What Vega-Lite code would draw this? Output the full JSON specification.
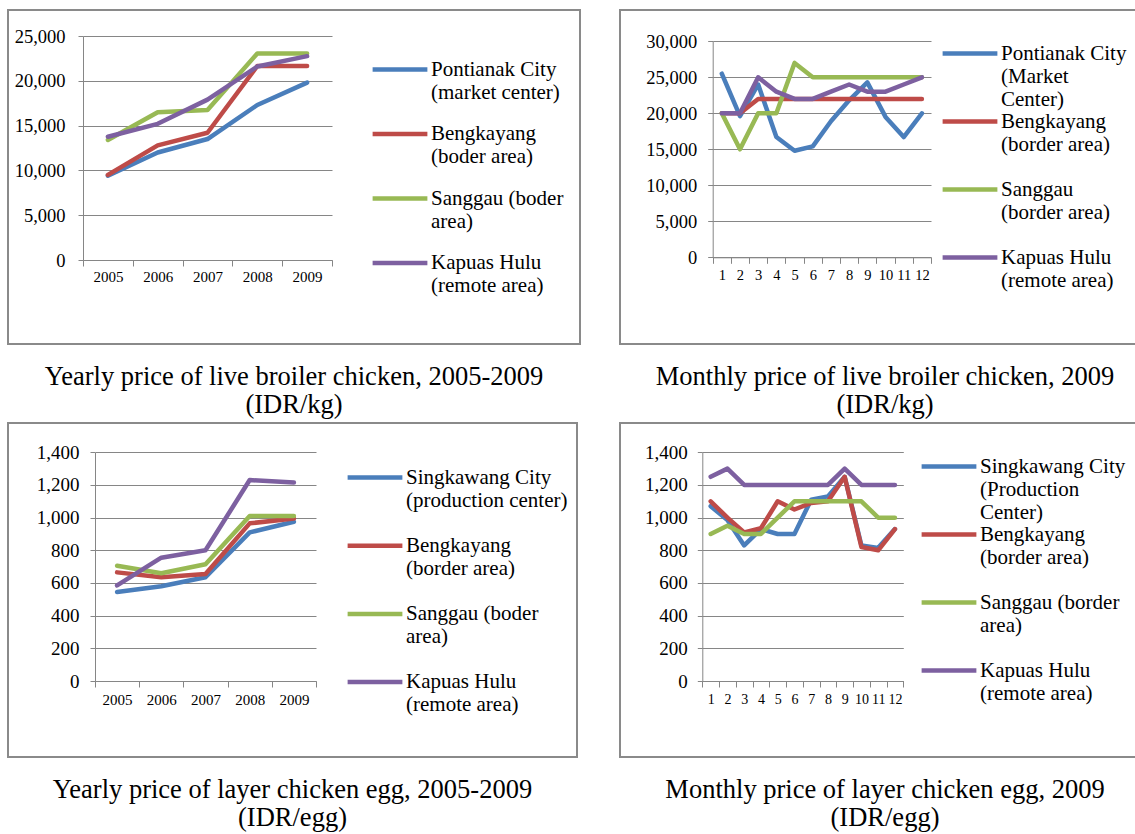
{
  "$schema": "https://vega.github.io/schema/vega-lite/v6.json",
  "padding": {"left": 7, "top": 9, "right": 0, "bottom": 0},
  "background": "white",
  "config": {
    "font": "Liberation Serif",
    "view": {"stroke": "#8a8a8a", "strokeWidth": 2},
    "axis": {"domainColor": "#868686", "tickColor": "#868686", "gridColor": "#868686", "gridWidth": 1, "labelColor": "black", "labelFont": "Liberation Serif"},
    "legend": {"padding": 0, "labelColor": "black", "labelFont": "Liberation Serif", "labelFontSize": 21, "labelLimit": 400, "labelOffset": 20.5, "symbolType": "M-4,0H4", "symbolSize": 187.5, "symbolStrokeWidth": 5, "gridAlign": "all", "columns": 1},
    "line": {"strokeWidth": 4.5, "strokeJoin": "round", "strokeCap": "round"},
    "style": {"guide-label": {"lineHeight": 23}},
    "title": {"font": "Liberation Serif", "fontWeight": "normal", "color": "black", "fontSize": 26.5, "lineHeight": 28}
  },
  "datasets": {
    "broilerYear": [
      {"year": 2005, "series": "Pontianak City (market center)", "price": 9400},
      {"year": 2006, "series": "Pontianak City (market center)", "price": 12000},
      {"year": 2007, "series": "Pontianak City (market center)", "price": 13500},
      {"year": 2008, "series": "Pontianak City (market center)", "price": 17300},
      {"year": 2009, "series": "Pontianak City (market center)", "price": 19800},
      {"year": 2005, "series": "Bengkayang (boder area)", "price": 9500},
      {"year": 2006, "series": "Bengkayang (boder area)", "price": 12800},
      {"year": 2007, "series": "Bengkayang (boder area)", "price": 14200},
      {"year": 2008, "series": "Bengkayang (boder area)", "price": 21650},
      {"year": 2009, "series": "Bengkayang (boder area)", "price": 21650},
      {"year": 2005, "series": "Sanggau (boder area)", "price": 13400},
      {"year": 2006, "series": "Sanggau (boder area)", "price": 16500},
      {"year": 2007, "series": "Sanggau (boder area)", "price": 16750},
      {"year": 2008, "series": "Sanggau (boder area)", "price": 23050},
      {"year": 2009, "series": "Sanggau (boder area)", "price": 23050},
      {"year": 2005, "series": "Kapuas Hulu (remote area)", "price": 13750},
      {"year": 2006, "series": "Kapuas Hulu (remote area)", "price": 15200},
      {"year": 2007, "series": "Kapuas Hulu (remote area)", "price": 17900},
      {"year": 2008, "series": "Kapuas Hulu (remote area)", "price": 21600},
      {"year": 2009, "series": "Kapuas Hulu (remote area)", "price": 22750}
    ],
    "broilerMonth": [
      {"month": 1, "series": "Pontianak City (Market Center)", "price": 25500},
      {"month": 2, "series": "Pontianak City (Market Center)", "price": 19600},
      {"month": 3, "series": "Pontianak City (Market Center)", "price": 24000},
      {"month": 4, "series": "Pontianak City (Market Center)", "price": 16700},
      {"month": 5, "series": "Pontianak City (Market Center)", "price": 14800},
      {"month": 6, "series": "Pontianak City (Market Center)", "price": 15400},
      {"month": 7, "series": "Pontianak City (Market Center)", "price": 18900},
      {"month": 8, "series": "Pontianak City (Market Center)", "price": 21800},
      {"month": 9, "series": "Pontianak City (Market Center)", "price": 24300},
      {"month": 10, "series": "Pontianak City (Market Center)", "price": 19500},
      {"month": 11, "series": "Pontianak City (Market Center)", "price": 16700},
      {"month": 12, "series": "Pontianak City (Market Center)", "price": 20000},
      {"month": 1, "series": "Bengkayang (border area)", "price": 20000},
      {"month": 2, "series": "Bengkayang (border area)", "price": 20000},
      {"month": 3, "series": "Bengkayang (border area)", "price": 22000},
      {"month": 4, "series": "Bengkayang (border area)", "price": 22000},
      {"month": 5, "series": "Bengkayang (border area)", "price": 22000},
      {"month": 6, "series": "Bengkayang (border area)", "price": 22000},
      {"month": 7, "series": "Bengkayang (border area)", "price": 22000},
      {"month": 8, "series": "Bengkayang (border area)", "price": 22000},
      {"month": 9, "series": "Bengkayang (border area)", "price": 22000},
      {"month": 10, "series": "Bengkayang (border area)", "price": 22000},
      {"month": 11, "series": "Bengkayang (border area)", "price": 22000},
      {"month": 12, "series": "Bengkayang (border area)", "price": 22000},
      {"month": 1, "series": "Sanggau (border area)", "price": 20000},
      {"month": 2, "series": "Sanggau (border area)", "price": 15000},
      {"month": 3, "series": "Sanggau (border area)", "price": 20000},
      {"month": 4, "series": "Sanggau (border area)", "price": 20000},
      {"month": 5, "series": "Sanggau (border area)", "price": 27000},
      {"month": 6, "series": "Sanggau (border area)", "price": 25000},
      {"month": 7, "series": "Sanggau (border area)", "price": 25000},
      {"month": 8, "series": "Sanggau (border area)", "price": 25000},
      {"month": 9, "series": "Sanggau (border area)", "price": 25000},
      {"month": 10, "series": "Sanggau (border area)", "price": 25000},
      {"month": 11, "series": "Sanggau (border area)", "price": 25000},
      {"month": 12, "series": "Sanggau (border area)", "price": 25000},
      {"month": 1, "series": "Kapuas Hulu (remote area)", "price": 20000},
      {"month": 2, "series": "Kapuas Hulu (remote area)", "price": 20000},
      {"month": 3, "series": "Kapuas Hulu (remote area)", "price": 25000},
      {"month": 4, "series": "Kapuas Hulu (remote area)", "price": 23000},
      {"month": 5, "series": "Kapuas Hulu (remote area)", "price": 22000},
      {"month": 6, "series": "Kapuas Hulu (remote area)", "price": 22000},
      {"month": 7, "series": "Kapuas Hulu (remote area)", "price": 23000},
      {"month": 8, "series": "Kapuas Hulu (remote area)", "price": 24000},
      {"month": 9, "series": "Kapuas Hulu (remote area)", "price": 23000},
      {"month": 10, "series": "Kapuas Hulu (remote area)", "price": 23000},
      {"month": 11, "series": "Kapuas Hulu (remote area)", "price": 24000},
      {"month": 12, "series": "Kapuas Hulu (remote area)", "price": 25000}
    ],
    "eggYear": [
      {"year": 2005, "series": "Singkawang City (production center)", "price": 545},
      {"year": 2006, "series": "Singkawang City (production center)", "price": 580},
      {"year": 2007, "series": "Singkawang City (production center)", "price": 635},
      {"year": 2008, "series": "Singkawang City (production center)", "price": 910},
      {"year": 2009, "series": "Singkawang City (production center)", "price": 975},
      {"year": 2005, "series": "Bengkayang (border area)", "price": 665},
      {"year": 2006, "series": "Bengkayang (border area)", "price": 635},
      {"year": 2007, "series": "Bengkayang (border area)", "price": 655},
      {"year": 2008, "series": "Bengkayang (border area)", "price": 965},
      {"year": 2009, "series": "Bengkayang (border area)", "price": 995},
      {"year": 2005, "series": "Sanggau (boder area)", "price": 705},
      {"year": 2006, "series": "Sanggau (boder area)", "price": 660},
      {"year": 2007, "series": "Sanggau (boder area)", "price": 715},
      {"year": 2008, "series": "Sanggau (boder area)", "price": 1010},
      {"year": 2009, "series": "Sanggau (boder area)", "price": 1010},
      {"year": 2005, "series": "Kapuas Hulu (remote area)", "price": 585},
      {"year": 2006, "series": "Kapuas Hulu (remote area)", "price": 755},
      {"year": 2007, "series": "Kapuas Hulu (remote area)", "price": 800},
      {"year": 2008, "series": "Kapuas Hulu (remote area)", "price": 1230},
      {"year": 2009, "series": "Kapuas Hulu (remote area)", "price": 1215}
    ],
    "eggMonth": [
      {"month": 1, "series": "Singkawang City (Production Center)", "price": 1070},
      {"month": 2, "series": "Singkawang City (Production Center)", "price": 985},
      {"month": 3, "series": "Singkawang City (Production Center)", "price": 830},
      {"month": 4, "series": "Singkawang City (Production Center)", "price": 930},
      {"month": 5, "series": "Singkawang City (Production Center)", "price": 900},
      {"month": 6, "series": "Singkawang City (Production Center)", "price": 900},
      {"month": 7, "series": "Singkawang City (Production Center)", "price": 1110},
      {"month": 8, "series": "Singkawang City (Production Center)", "price": 1130},
      {"month": 9, "series": "Singkawang City (Production Center)", "price": 1250},
      {"month": 10, "series": "Singkawang City (Production Center)", "price": 830},
      {"month": 11, "series": "Singkawang City (Production Center)", "price": 815},
      {"month": 12, "series": "Singkawang City (Production Center)", "price": 930},
      {"month": 1, "series": "Bengkayang (border area)", "price": 1100},
      {"month": 2, "series": "Bengkayang (border area)", "price": 1000},
      {"month": 3, "series": "Bengkayang (border area)", "price": 910},
      {"month": 4, "series": "Bengkayang (border area)", "price": 935},
      {"month": 5, "series": "Bengkayang (border area)", "price": 1100},
      {"month": 6, "series": "Bengkayang (border area)", "price": 1050},
      {"month": 7, "series": "Bengkayang (border area)", "price": 1090},
      {"month": 8, "series": "Bengkayang (border area)", "price": 1100},
      {"month": 9, "series": "Bengkayang (border area)", "price": 1250},
      {"month": 10, "series": "Bengkayang (border area)", "price": 820},
      {"month": 11, "series": "Bengkayang (border area)", "price": 800},
      {"month": 12, "series": "Bengkayang (border area)", "price": 930},
      {"month": 1, "series": "Sanggau (border area)", "price": 900},
      {"month": 2, "series": "Sanggau (border area)", "price": 950},
      {"month": 3, "series": "Sanggau (border area)", "price": 900},
      {"month": 4, "series": "Sanggau (border area)", "price": 900},
      {"month": 5, "series": "Sanggau (border area)", "price": 1000},
      {"month": 6, "series": "Sanggau (border area)", "price": 1100},
      {"month": 7, "series": "Sanggau (border area)", "price": 1100},
      {"month": 8, "series": "Sanggau (border area)", "price": 1100},
      {"month": 9, "series": "Sanggau (border area)", "price": 1100},
      {"month": 10, "series": "Sanggau (border area)", "price": 1100},
      {"month": 11, "series": "Sanggau (border area)", "price": 1000},
      {"month": 12, "series": "Sanggau (border area)", "price": 1000},
      {"month": 1, "series": "Kapuas Hulu (remote area)", "price": 1250},
      {"month": 2, "series": "Kapuas Hulu (remote area)", "price": 1300},
      {"month": 3, "series": "Kapuas Hulu (remote area)", "price": 1200},
      {"month": 4, "series": "Kapuas Hulu (remote area)", "price": 1200},
      {"month": 5, "series": "Kapuas Hulu (remote area)", "price": 1200},
      {"month": 6, "series": "Kapuas Hulu (remote area)", "price": 1200},
      {"month": 7, "series": "Kapuas Hulu (remote area)", "price": 1200},
      {"month": 8, "series": "Kapuas Hulu (remote area)", "price": 1200},
      {"month": 9, "series": "Kapuas Hulu (remote area)", "price": 1300},
      {"month": 10, "series": "Kapuas Hulu (remote area)", "price": 1200},
      {"month": 11, "series": "Kapuas Hulu (remote area)", "price": 1200},
      {"month": 12, "series": "Kapuas Hulu (remote area)", "price": 1200}
    ]
  },
  "spacing": 2,
  "resolve": {"scale": {"x": "independent", "y": "independent", "color": "independent"}, "legend": {"color": "independent"}, "axis": {"x": "independent", "y": "independent"}},
  "vconcat": [
    {
      "spacing": 40,
      "bounds": "flush",
      "resolve": {"scale": {"x": "independent", "y": "independent", "color": "independent"}, "legend": {"color": "independent"}, "axis": {"x": "independent", "y": "independent"}},
      "hconcat": [
        {
          "width": 572, "height": 334,
          "data": {"name": "broilerYear"},
          "mark": {"type": "line"},
          "encoding": {
            "x": {"field": "year", "type": "ordinal", "bandPosition": 0.5,
              "scale": {"type": "band", "paddingInner": 0, "paddingOuter": 0, "range": [75, 324]},
              "axis": {"title": null, "tickBand": "extent", "offset": -84, "labelAngle": 0, "labelFontSize": 15, "labelPadding": 3, "tickSize": 6, "labelOverlap": false}},
            "y": {"field": "price", "type": "quantitative",
              "scale": {"domain": [0, 25000], "range": [250, 26], "nice": false},
              "axis": {"title": null, "offset": -75, "values": [0, 5000, 10000, 15000, 20000, 25000], "format": ",d", "labelFontSize": 18.5, "labelPadding": 13, "tickSize": 5, "grid": true}},
            "color": {"field": "series", "type": "nominal",
              "scale": {"domain": ["Pontianak City (market center)", "Bengkayang (boder area)", "Sanggau (boder area)", "Kapuas Hulu (remote area)"], "range": ["#4A7EBB", "#BE4B48", "#98B954", "#7D60A0"]},
              "legend": {"orient": "none", "legendX": 381.5, "legendY": 49, "title": null, "rowPadding": 19.5,
                "labelExpr": "datum.label == 'Pontianak City (market center)' ? ['Pontianak City', '(market center)'] : datum.label == 'Bengkayang (boder area)' ? ['Bengkayang', '(boder area)'] : datum.label == 'Sanggau (boder area)' ? ['Sanggau (boder', 'area)'] : ['Kapuas Hulu', '(remote area)']"}}
          },
          "title": {"text": ["Yearly price of live broiler chicken, 2005-2009", "(IDR/kg)"], "orient": "bottom", "anchor": "middle", "offset": 20}
        },
        {
          "width": 530, "height": 334,
          "data": {"name": "broilerMonth"},
          "mark": {"type": "line"},
          "encoding": {
            "x": {"field": "month", "type": "ordinal", "bandPosition": 0.5,
              "scale": {"type": "band", "paddingInner": 0, "paddingOuter": 0, "range": [92.7, 311]},
              "axis": {"title": null, "tickBand": "extent", "offset": -86.7, "labelAngle": 0, "labelFontSize": 14.5, "labelPadding": 5, "tickSize": 6, "labelOverlap": false}},
            "y": {"field": "price", "type": "quantitative",
              "scale": {"domain": [0, 30000], "range": [247.3, 31.3], "nice": false},
              "axis": {"title": null, "offset": -92.7, "values": [0, 5000, 10000, 15000, 20000, 25000, 30000], "format": ",d", "labelFontSize": 18.5, "labelPadding": 11, "tickSize": 5, "grid": true}},
            "color": {"field": "series", "type": "nominal",
              "scale": {"domain": ["Pontianak City (Market Center)", "Bengkayang (border area)", "Sanggau (border area)", "Kapuas Hulu (remote area)"], "range": ["#4A7EBB", "#BE4B48", "#98B954", "#7D60A0"]},
              "legend": {"orient": "none", "legendX": 339.5, "legendY": 33, "title": null, "rowPadding": 0,
                "labelExpr": "datum.label == 'Pontianak City (Market Center)' ? ['Pontianak City', '(Market', 'Center)'] : datum.label == 'Bengkayang (border area)' ? ['Bengkayang', '(border area)'] : datum.label == 'Sanggau (border area)' ? ['Sanggau', '(border area)'] : ['Kapuas Hulu', '(remote area)']"}}
          },
          "title": {"text": ["Monthly price of live broiler chicken, 2009", "(IDR/kg)"], "orient": "bottom", "anchor": "middle", "offset": 20}
        }
      ]
    },
    {
      "spacing": 43,
      "bounds": "flush",
      "resolve": {"scale": {"x": "independent", "y": "independent", "color": "independent"}, "legend": {"color": "independent"}, "axis": {"x": "independent", "y": "independent"}},
      "hconcat": [
        {
          "width": 569, "height": 334,
          "data": {"name": "eggYear"},
          "mark": {"type": "line"},
          "encoding": {
            "x": {"field": "year", "type": "ordinal", "bandPosition": 0.5,
              "scale": {"type": "band", "paddingInner": 0, "paddingOuter": 0, "range": [87, 308]},
              "axis": {"title": null, "tickBand": "extent", "offset": -76, "labelAngle": 0, "labelFontSize": 15, "labelPadding": 5, "tickSize": 6, "labelOverlap": false}},
            "y": {"field": "price", "type": "quantitative",
              "scale": {"domain": [0, 1400], "range": [258, 29.3], "nice": false},
              "axis": {"title": null, "offset": -87, "values": [0, 200, 400, 600, 800, 1000, 1200, 1400], "format": ",d", "labelFontSize": 19, "labelPadding": 11, "tickSize": 5, "grid": true}},
            "color": {"field": "series", "type": "nominal",
              "scale": {"domain": ["Singkawang City (production center)", "Bengkayang (border area)", "Sanggau (boder area)", "Kapuas Hulu (remote area)"], "range": ["#4A7EBB", "#BE4B48", "#98B954", "#7D60A0"]},
              "legend": {"orient": "none", "legendX": 356.5, "legendY": 44, "title": null, "rowPadding": 23.2,
                "labelExpr": "datum.label == 'Singkawang City (production center)' ? ['Singkawang City', '(production center)'] : datum.label == 'Bengkayang (border area)' ? ['Bengkayang', '(border area)'] : datum.label == 'Sanggau (boder area)' ? ['Sanggau (boder', 'area)'] : ['Kapuas Hulu', '(remote area)']"}}
          },
          "title": {"text": ["Yearly price of layer chicken egg, 2005-2009", "(IDR/egg)"], "orient": "bottom", "anchor": "middle", "offset": 20}
        },
        {
          "width": 530, "height": 334,
          "data": {"name": "eggMonth"},
          "mark": {"type": "line"},
          "encoding": {
            "x": {"field": "month", "type": "ordinal", "bandPosition": 0.5,
              "scale": {"type": "band", "paddingInner": 0, "paddingOuter": 0, "range": [82.3, 283.3]},
              "axis": {"title": null, "tickBand": "extent", "offset": -76, "labelAngle": 0, "labelFontSize": 14, "labelPadding": 5, "tickSize": 6, "labelOverlap": false}},
            "y": {"field": "price", "type": "quantitative",
              "scale": {"domain": [0, 1400], "range": [258, 29.3], "nice": false},
              "axis": {"title": null, "offset": -82.3, "values": [0, 200, 400, 600, 800, 1000, 1200, 1400], "format": ",d", "labelFontSize": 19, "labelPadding": 10, "tickSize": 5, "grid": true}},
            "color": {"field": "series", "type": "nominal",
              "scale": {"domain": ["Singkawang City (Production Center)", "Bengkayang (border area)", "Sanggau (border area)", "Kapuas Hulu (remote area)"], "range": ["#4A7EBB", "#BE4B48", "#98B954", "#7D60A0"]},
              "legend": {"orient": "none", "legendX": 318.5, "legendY": 33, "title": null, "rowPadding": 0,
                "labelExpr": "datum.label == 'Singkawang City (Production Center)' ? ['Singkawang City', '(Production', 'Center)'] : datum.label == 'Bengkayang (border area)' ? ['Bengkayang', '(border area)'] : datum.label == 'Sanggau (border area)' ? ['Sanggau (border', 'area)'] : ['Kapuas Hulu', '(remote area)']"}}
          },
          "title": {"text": ["Monthly price of layer chicken egg, 2009", "(IDR/egg)"], "orient": "bottom", "anchor": "middle", "offset": 20}
        }
      ]
    }
  ]
}
